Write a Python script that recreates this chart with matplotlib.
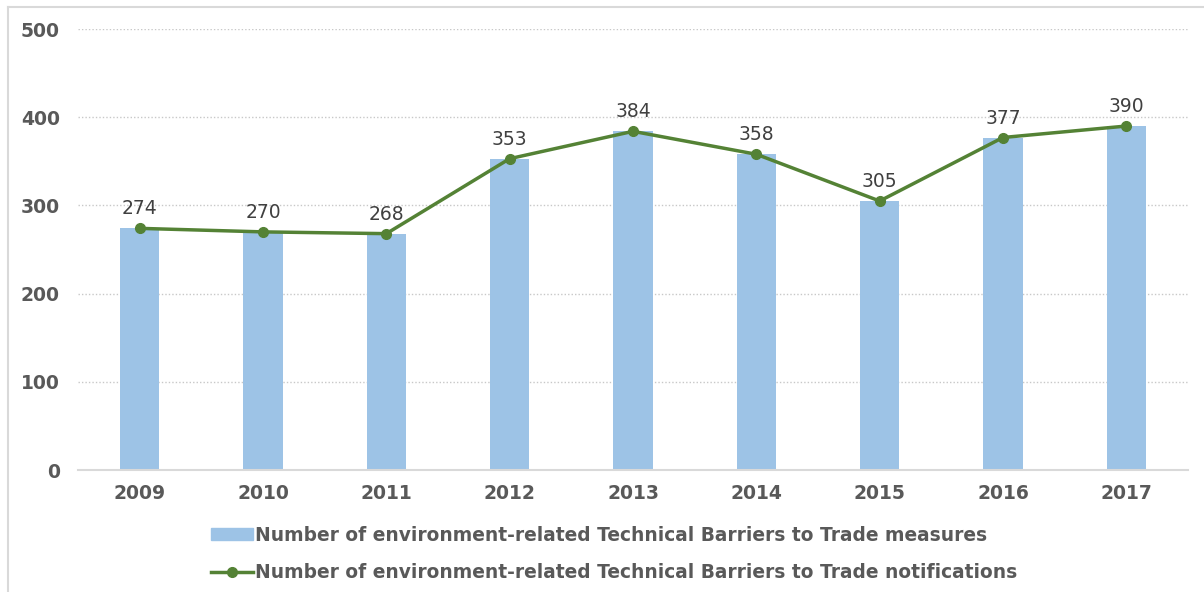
import matplotlib.pyplot as plt
from matplotlib.lines import Line2D
import numpy as np

# --- datos ---
years = ["2009", "2010", "2011", "2012", "2013", "2014", "2015", "2016", "2017"]
measures = [274, 270, 268, 353, 384, 358, 305, 377, 390]
notifications = [274, 270, 268, 353, 384, 358, 305, 377, 390]

bar_label = "Number of environment-related Technical Barriers to Trade measures"
line_label = "Number of environment-related Technical Barriers to Trade notifications"

grey = "#595959"
bar_color = "#9DC3E6"
line_color = "#548235"

fig = plt.figure(figsize=(12.04, 5.92), dpi=100)
ax = fig.add_axes([0.0648, 0.206, 0.9219, 0.745])

x = np.arange(len(years))
ax.bar(x, measures, width=0.32, color=bar_color, zorder=2)
ax.plot(x, notifications, color=line_color, lw=2.5, marker="o",
        markersize=7, zorder=3)

for xi, v in zip(x, notifications):
    ax.annotate(str(v), (xi, v), xytext=(0, 14), textcoords="offset points",
                ha="center", va="center", fontsize=13.5, color="#404040")

ax.set_xlim(-0.5, len(years) - 0.5)
ax.set_ylim(0, 500)
ax.set_yticks(range(0, 501, 100))
ax.set_xticks(x)
ax.set_xticklabels(years)
ax.tick_params(axis="both", length=0, labelsize=13.5, labelcolor=grey)
ax.tick_params(axis="y", pad=13)
ax.tick_params(axis="x", pad=10)
for lab in ax.get_xticklabels() + ax.get_yticklabels():
    lab.set_fontweight("bold")

ax.grid(axis="y", color="#C8C8C8", linestyle=(0, (1, 1.5)), lw=1, zorder=0)
for s in ["top", "right", "left"]:
    ax.spines[s].set_visible(False)
ax.spines["bottom"].set_color("#D9D9D9")
ax.spines["bottom"].set_linewidth(1.5)

# --- leyenda ---
handles = [
    plt.Rectangle((0, 0), 1, 1, color=bar_color),
    Line2D([0], [0], color=line_color, lw=2.5, marker="o", markersize=7),
]
leg = fig.legend(handles, [bar_label, line_label], loc="center",
                 bbox_to_anchor=(0.51, 0.064), ncol=1, frameon=False,
                 prop={"size": 13.4, "weight": "bold"}, handlelength=2.25,
                 handleheight=0.65, handletextpad=0.1, labelspacing=1.0,
                 alignment="left")
for t in leg.get_texts():
    t.set_color(grey)

# borde de la figura
fig.add_artist(Line2D([8 / 1204, 8 / 1204], [0, 1 - 7 / 592],
                      transform=fig.transFigure, color="#D9D9D9", lw=1.5))
fig.add_artist(Line2D([8 / 1204, 1], [1 - 7 / 592, 1 - 7 / 592],
                      transform=fig.transFigure, color="#D9D9D9", lw=1.5))

fig.savefig("out.png", dpi=100)
